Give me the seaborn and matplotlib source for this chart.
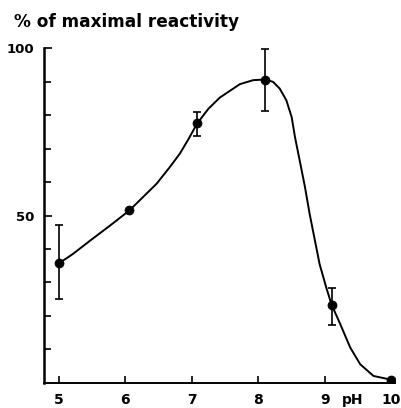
import matplotlib
matplotlib.use("Agg")
import matplotlib.pyplot as plt
import seaborn as sns
import numpy as np
import pandas as pd

# measured points (pH, % of maximal reactivity) with error bar limits
ph = [5.0, 6.06, 7.08, 8.10, 9.10, 9.99]
reactivity = [35.7, 51.5, 77.5, 90.6, 23.4, 1.0]
err_low = [25.1, np.nan, 73.7, 81.1, 17.4, np.nan]
err_high = [47.2, np.nan, 80.9, 99.6, 28.3, np.nan]

# hand-drawn fitted curve
curve_ph = [5.0, 5.21, 5.47, 5.77, 6.06, 6.47, 6.67, 6.82, 6.94, 7.08, 7.25,
            7.42, 7.72, 7.92, 8.10, 8.22, 8.32, 8.42, 8.50, 8.55, 8.62, 8.70,
            8.77, 8.85, 8.92, 9.02, 9.10, 9.23, 9.38, 9.53, 9.73, 9.99]
curve_pct = [35.7, 38.5, 42.5, 47.0, 51.5, 59.5, 64.5, 68.5, 72.5, 77.5, 81.9,
             85.2, 89.2, 90.4, 90.6, 89.9, 87.9, 84.4, 79.4, 73.4, 66.5, 58.5,
             50.5, 42.5, 35.5, 28.5, 23.4, 17.6, 10.6, 5.6, 2.1, 1.0]

x_ticks = [5, 6, 7, 8, 9, 10]
y_ticks = [50, 100]

sns.set_theme(style="ticks")
plt.rcParams["font.family"] = ["DejaVu Sans"]
plt.rcParams["text.color"] = "black"
plt.rcParams["xtick.color"] = "black"
plt.rcParams["ytick.color"] = "black"
plt.rcParams["axes.edgecolor"] = "black"

points = pd.DataFrame({"ph": ph, "pct": reactivity})
curve = pd.DataFrame({"ph": curve_ph, "pct": curve_pct})

fig = plt.figure(figsize=(4.02, 4.08), dpi=100)
ax = fig.add_axes([0.109, 0.0613, 0.873, 0.821])

sns.lineplot(data=curve, x="ph", y="pct", color="black", lw=1.4, ax=ax)
sns.scatterplot(data=points, x="ph", y="pct", color="black", s=42,
                edgecolor="black", zorder=3, ax=ax)

lo = np.array(reactivity) - np.array(err_low)
hi = np.array(err_high) - np.array(reactivity)
ax.errorbar(ph, reactivity, yerr=[lo, hi], fmt="none", ecolor="black",
            elinewidth=1.2, capsize=3, capthick=1.2)

ax.set_xlim(4.774, 10.05)
ax.set_ylim(0, 100)
for s in ["top", "right"]:
    ax.spines[s].set_visible(False)
ax.spines["left"].set_linewidth(1.8)
ax.spines["bottom"].set_linewidth(1.4)

ax.set_xticks(x_ticks)
ax.set_xticklabels([str(t) for t in x_ticks], fontweight="bold", fontsize=10)
ax.set_yticks(y_ticks)
ax.set_yticklabels([str(t) for t in y_ticks], fontweight="bold", fontsize=9.5)
ax.set_yticks(np.arange(10, 100, 10), minor=True)
ax.tick_params(axis="both", which="both", direction="in", length=5,
               width=1.2, pad=7)
ax.tick_params(axis="y", which="major", length=6)

ax.set_xlabel("")
ax.set_ylabel("")
ax.annotate("pH", xy=(9.42, 0), xycoords=("data", "axes fraction"),
            xytext=(0, -7), textcoords="offset points",
            ha="center", va="top", fontsize=10, fontweight="bold")
fig.text(0.035, 0.945, "% of maximal reactivity", ha="left", va="center",
         fontsize=12.2, fontweight="bold")

fig.savefig("out.png", dpi=100)
